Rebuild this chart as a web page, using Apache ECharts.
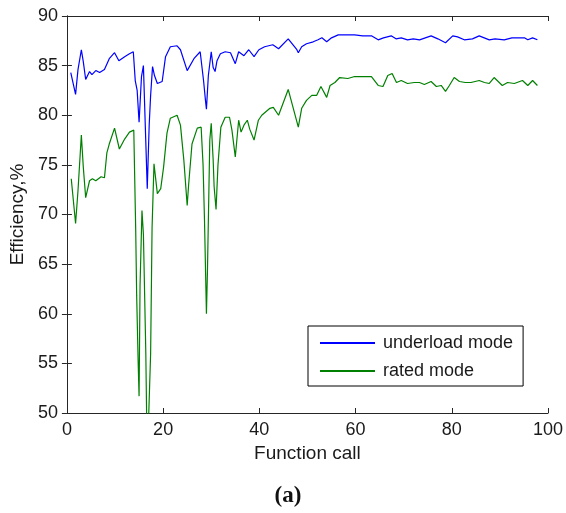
<!DOCTYPE html>
<html>
<head>
<meta charset="utf-8">
<script src="https://cdn.jsdelivr.net/npm/echarts@6/dist/echarts.min.js"></script>
<style>
html,body{margin:0;padding:0;background:#fff;}
#chart{width:566px;height:513px;}
</style>
</head>
<body>
<div id="chart"></div>
<script>
// Underload mode series (Function call, Efficiency %)
var underloadX = [0.8,1.8,2.3,3.0,3.4,3.9,4.7,5.2,6.0,6.8,7.8,8.8,9.9,10.8,12.0,13.0,13.8,14.2,14.6,15.0,15.5,15.9,16.3,16.7,17.1,17.4,17.8,18.2,18.8,19.8,20.5,21.5,22.9,23.6,25.0,26.4,27.7,28.4,28.8,29.0,29.4,30.0,30.4,30.8,31.2,31.9,32.9,34.0,35.0,35.7,36.0,36.8,37.8,38.9,39.9,41.1,42.8,44.0,46.0,47.8,48.1,48.8,49.8,51.2,52.2,53.0,54.0,55.0,56.4,59.8,61.5,63.3,64.7,65.8,67.4,68.4,69.5,70.8,72.0,73.3,74.5,75.7,77.1,78.7,80.2,81.2,82.6,84.3,85.7,87.8,89.0,90.9,92.5,95.1,95.8,96.8,97.8];
var underloadY = [84.3,82.1,84.6,86.6,85.4,83.6,84.4,84.1,84.5,84.3,84.6,85.7,86.3,85.5,85.9,86.2,86.4,83.5,82.5,79.3,83.9,85.0,78.8,72.6,79.0,82.0,84.9,84.0,83.2,83.4,85.9,86.9,87.0,86.6,84.5,85.7,86.4,83.5,81.5,80.6,84.0,86.4,84.8,84.4,85.5,86.2,86.4,86.3,85.2,86.4,86.2,86.0,86.6,85.9,86.6,86.9,87.1,86.7,87.7,86.6,86.3,86.9,87.2,87.4,87.6,87.8,87.4,87.8,88.1,88.1,88.0,88.0,87.6,87.8,88.0,87.7,87.8,87.6,87.7,87.6,87.8,88.0,87.7,87.3,88.0,87.9,87.6,87.7,88.0,87.6,87.7,87.6,87.8,87.8,87.6,87.8,87.6];

// Rated mode series
var ratedX = [0.9,1.6,1.8,2.3,3.0,3.4,3.9,4.7,5.3,6.0,7.1,7.8,8.3,8.8,9.9,10.9,12.0,13.0,13.9,14.3,14.5,14.8,15.0,15.2,15.6,15.9,16.4,16.7,17.1,17.4,17.7,18.1,18.8,19.5,20.1,20.8,21.5,22.9,23.6,24.3,25.0,25.3,26.0,27.1,27.9,28.3,28.6,29.0,29.2,29.7,30.0,30.4,30.6,31.0,31.4,32.0,32.9,33.8,34.3,35.0,35.7,36.2,36.8,37.5,38.0,38.9,39.8,40.5,42.2,42.9,44.0,46.0,48.1,48.8,49.8,50.9,51.9,52.8,54.0,54.7,55.7,56.7,58.4,59.8,63.3,64.7,65.7,66.7,67.6,68.5,69.5,70.8,72.2,73.3,74.3,75.7,76.8,77.8,78.7,79.5,80.5,81.6,82.8,84.0,85.7,86.8,87.8,88.8,90.5,91.6,93.0,94.7,95.8,96.8,97.8];
var ratedY = [73.6,70.1,69.1,72.4,78.0,74.8,71.7,73.4,73.6,73.4,73.8,73.7,76.2,77.1,78.7,76.6,77.6,78.3,78.5,68.4,61.8,55.3,51.7,62.8,70.4,68.0,56.0,45.0,45.0,56.0,68.7,75.1,72.1,72.6,74.8,78.2,79.7,80.0,79.0,75.5,70.9,73.0,77.1,78.7,78.8,75.0,69.4,60.0,64.0,77.5,79.2,75.5,72.8,70.5,75.0,78.8,79.8,79.8,78.5,75.8,79.5,78.3,79.0,79.5,78.6,77.5,79.5,80.0,80.7,80.8,80.0,82.6,78.8,80.7,81.5,82.0,82.0,82.9,81.8,83.0,83.3,83.8,83.7,83.9,83.9,83.0,82.9,84.0,84.2,83.3,83.5,83.2,83.3,83.3,83.1,83.4,82.9,83.0,82.4,83.0,83.8,83.4,83.3,83.3,83.5,83.3,83.2,83.8,83.0,83.3,83.2,83.5,83.0,83.5,83.0];

var xTicks = [0, 20, 40, 60, 80, 100];
var yTicks = [50, 55, 60, 65, 70, 75, 80, 85, 90];
var seriesNames = ['underload mode', 'rated mode'];

function pairs(xs, ys) {
  var out = [];
  var n = Math.min(xs.length, ys.length);
  for (var i = 0; i < n; i++) out.push([xs[i], ys[i]]);
  return out;
}

var axisColor = '#262626';
var textColor = '#1a1a1a';
var font = 'Liberation Sans, Arial, sans-serif';

var chart = echarts.init(document.getElementById('chart'), null, {renderer: 'canvas'});
var common = {
  axisLine: {show: true, lineStyle: {color: axisColor, width: 1}},
  axisTick: {show: true, inside: true, length: 5, lineStyle: {color: axisColor, width: 1}},
  splitLine: {show: false}
};
chart.setOption({
  backgroundColor: '#ffffff',
  animation: false,
  grid: {left: 66, right: 17, top: 16, bottom: 100, containLabel: false},
  legend: {
    orient: 'vertical',
    left: 308, top: 326,
    padding: [8, 10, 6, 11],
    borderColor: '#000', borderWidth: 1,
    backgroundColor: '#fff',
    itemWidth: 55, itemHeight: 14, itemGap: 10,
    itemStyle: {opacity: 0, borderWidth: 0},
    textStyle: {fontSize: 18, color: textColor, fontFamily: font, padding: [0, 0, 0, 3]},
    data: seriesNames
  },
  xAxis: [
    Object.assign({
      type: 'value', min: xTicks[0], max: xTicks[xTicks.length - 1], interval: 20,
      position: 'bottom',
      name: 'Function call', nameLocation: 'middle', nameGap: 30,
      nameTextStyle: {fontSize: 19, color: textColor, fontFamily: font},
      axisLabel: {fontSize: 18, color: textColor, fontFamily: font, margin: 8}
    }, common),
    Object.assign({
      type: 'value', min: xTicks[0], max: xTicks[xTicks.length - 1], interval: 20,
      position: 'top', axisLabel: {show: false}
    }, common)
  ],
  yAxis: [
    Object.assign({
      type: 'value', min: yTicks[0], max: yTicks[yTicks.length - 1], interval: 5,
      position: 'left',
      name: 'Efficiency,%', nameLocation: 'middle', nameGap: 38, nameRotate: 90,
      nameTextStyle: {fontSize: 19, color: textColor, fontFamily: font},
      axisLabel: {fontSize: 18, color: textColor, fontFamily: font, margin: 9}
    }, common),
    Object.assign({
      type: 'value', min: yTicks[0], max: yTicks[yTicks.length - 1], interval: 5,
      position: 'right', axisLabel: {show: false}
    }, common)
  ],
  series: [
    {
      name: seriesNames[0], type: 'line', data: pairs(underloadX, underloadY),
      symbol: 'none', clip: true,
      lineStyle: {color: '#0000ff', width: 1.2}, itemStyle: {color: '#0000ff'}
    },
    {
      name: seriesNames[1], type: 'line', data: pairs(ratedX, ratedY),
      symbol: 'none', clip: true,
      lineStyle: {color: '#008000', width: 1.2}, itemStyle: {color: '#008000'}
    }
  ],
  graphic: [{
    type: 'text', x: 288, y: 496,
    style: {text: '(a)', font: 'bold 23px "Liberation Serif", serif', fill: '#111', textAlign: 'center', textVerticalAlign: 'middle'}
  }]
});
</script>
</body>
</html>
